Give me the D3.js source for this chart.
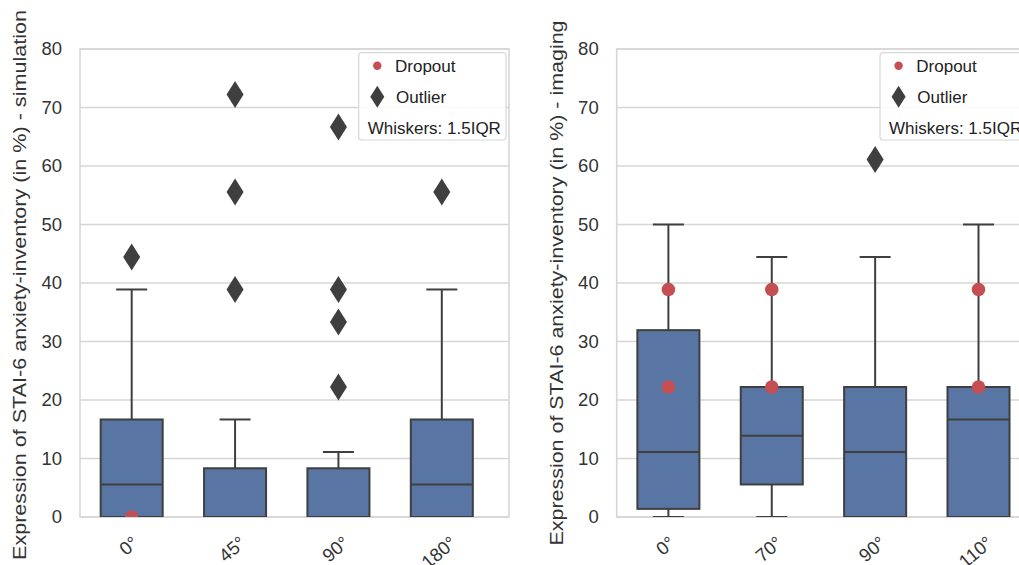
<!DOCTYPE html>
<html>
<head>
<meta charset="utf-8">
<script src="https://cdn.jsdelivr.net/npm/d3@7"></script>
<style>
    body { margin: 0; background: #fff; }
    svg { display: block; font-family: "Liberation Sans", Arial, sans-serif; }
</style>
</head>
<body>
<script>
(function () {

    //box statistics (values in %)
    var simCats = ["0°", "45°", "90°", "180°"];
    var simQ1 = [0, 0, 0, 0];
    var simMed = [5.56, 0, 0, 5.56];
    var simQ3 = [16.67, 8.33, 8.33, 16.67];
    var simLo = [0, 0, 0, 0];
    var simHi = [38.89, 16.67, 11.11, 38.89];
    var simOutliers = [[44.44], [38.89, 55.56, 72.22], [22.22, 33.33, 38.89, 66.67], [55.56]];
    var simDropouts = [[0], [], [], []];

    var imgCats = ["0°", "70°", "90°", "110°"];
    var imgQ1 = [1.39, 5.56, 0, 0];
    var imgMed = [11.11, 13.89, 11.11, 16.67];
    var imgQ3 = [31.94, 22.22, 22.22, 22.22];
    var imgLo = [0, 0, 0, 0];
    var imgHi = [50, 44.44, 44.44, 50];
    var imgOutliers = [[], [], [61.11], []];
    var imgDropouts = [[38.89, 22.22], [38.89, 22.22], [], [38.89, 22.22]];

    var yTicks = [0, 10, 20, 30, 40, 50, 60, 70, 80];

    var width = 1019,
        height = 565;

    var boxFill = "#5975a4",
        lineCol = "#3f3f3f",
        dropCol = "#c44e52",
        gridCol = "#d6d6d6",
        textCol = "#333333";

    var svg = d3.select("body")
        .append("svg")
        .attr("width", width)
        .attr("height", height);

    var plotW = 429,
        plotTop = 49,
        plotBottom = 517;

    drawPanel(80, "simulation", [26, 285, 550], 358.7, {
        cats: simCats, q1: simQ1, med: simMed, q3: simQ3, lo: simLo, hi: simHi,
        out: simOutliers, drop: simDropouts
    });
    drawPanel(616.7, "imaging", [563, 283, 525], 880, {
        cats: imgCats, q1: imgQ1, med: imgMed, q3: imgQ3, lo: imgLo, hi: imgHi,
        out: imgOutliers, drop: imgDropouts
    });

    function drawPanel(left, name, lab, legendX, d) {
        var id = "clip-" + name;

        var x = d3.scaleLinear()
            .domain([-0.5, 3.65])
            .range([left, left + plotW]);
        var y = d3.scaleLinear()
            .domain([0, 80])
            .range([plotBottom, plotTop]);

        var step = x(1) - x(0),
            boxW = step * 0.6,
            capW = boxW / 2;

        svg.append("clipPath")
            .attr("id", id)
            .append("rect")
            .attr("x", left)
            .attr("y", plotTop)
            .attr("width", plotW)
            .attr("height", plotBottom - plotTop);

        //horizontal grid
        svg.append("g")
            .selectAll("line")
            .data(yTicks)
            .enter()
            .append("line")
            .attr("x1", left)
            .attr("x2", left + plotW)
            .attr("y1", function (v) { return y(v); })
            .attr("y2", function (v) { return y(v); })
            .attr("stroke", gridCol)
            .attr("stroke-width", 1.6);

        //frame
        svg.append("rect")
            .attr("x", left)
            .attr("y", plotTop)
            .attr("width", plotW)
            .attr("height", plotBottom - plotTop)
            .attr("fill", "none")
            .attr("stroke", gridCol)
            .attr("stroke-width", 1.6);

        //y axis labels
        var yAxis = d3.axisLeft(y)
            .tickValues(yTicks)
            .tickSize(0)
            .tickPadding(18);
        var ya = svg.append("g")
            .attr("transform", "translate(" + left + ",0)")
            .call(yAxis);
        ya.select(".domain").remove();
        ya.selectAll("text")
            .attr("font-size", 18.5)
            .attr("fill", textCol);

        //y label (stretched along its length like the source figure)
        svg.append("text")
            .attr("transform", "translate(" + lab[0] + "," + lab[1] + ") rotate(-90)")
            .attr("text-anchor", "middle")
            .attr("font-size", 18.5)
            .attr("textLength", lab[2])
            .attr("lengthAdjust", "spacingAndGlyphs")
            .attr("fill", textCol)
            .text("Expression of STAI-6 anxiety-inventory (in %) - " + name);

        //x tick labels, rotated
        var xl = svg.append("g");
        d.cats.forEach(function (c, i) {
            var t = xl.append("text")
                .attr("text-anchor", "middle")
                .attr("dominant-baseline", "central")
                .attr("font-size", 18.5)
                .attr("fill", textCol)
                .text(c);
            var len = t.node().getComputedTextLength();
            var a = 40 * Math.PI / 180;
            var half = (len * Math.sin(a) + 13 * Math.cos(a)) / 2;
            t.attr("transform", "translate(" + (x(i) - 3) + "," + (535 + half) + ") rotate(-40)");
        });

        var g = svg.append("g").attr("clip-path", "url(#" + id + ")");

        d.cats.forEach(function (c, i) {
            var cx = x(i);
            //whiskers
            g.append("line")
                .attr("x1", cx).attr("x2", cx)
                .attr("y1", y(d.q3[i])).attr("y2", y(d.hi[i]))
                .attr("stroke", lineCol).attr("stroke-width", 2);
            g.append("line")
                .attr("x1", cx).attr("x2", cx)
                .attr("y1", y(d.q1[i])).attr("y2", y(d.lo[i]))
                .attr("stroke", lineCol).attr("stroke-width", 2);
            [d.hi[i], d.lo[i]].forEach(function (v) {
                g.append("line")
                    .attr("x1", cx - capW / 2).attr("x2", cx + capW / 2)
                    .attr("y1", y(v)).attr("y2", y(v))
                    .attr("stroke", lineCol).attr("stroke-width", 2);
            });
            //box
            g.append("rect")
                .attr("x", cx - boxW / 2)
                .attr("y", y(d.q3[i]))
                .attr("width", boxW)
                .attr("height", y(d.q1[i]) - y(d.q3[i]))
                .attr("fill", boxFill)
                .attr("stroke", lineCol)
                .attr("stroke-width", 2);
            //median
            g.append("line")
                .attr("x1", cx - boxW / 2).attr("x2", cx + boxW / 2)
                .attr("y1", y(d.med[i])).attr("y2", y(d.med[i]))
                .attr("stroke", lineCol).attr("stroke-width", 2);
            //outliers
            d.out[i].forEach(function (v) {
                g.append("path")
                    .attr("d", diamond(cx, y(v), 8.5, 13.5))
                    .attr("fill", lineCol);
            });
            //dropouts
            d.drop[i].forEach(function (v) {
                g.append("circle")
                    .attr("cx", cx)
                    .attr("cy", y(v))
                    .attr("r", 6.8)
                    .attr("fill", dropCol);
            });
        });

        //legend
        var lg = svg.append("g");
        lg.append("rect")
            .attr("x", legendX)
            .attr("y", 52.7)
            .attr("width", 147.3)
            .attr("height", 87.3)
            .attr("rx", 3)
            .attr("fill", "#fff")
            .attr("fill-opacity", 0.85)
            .attr("stroke", "#d8d8d8")
            .attr("stroke-width", 1.2);
        lg.append("circle")
            .attr("cx", legendX + 18.6)
            .attr("cy", 65.7)
            .attr("r", 4.2)
            .attr("fill", dropCol);
        lg.append("path")
            .attr("d", diamond(legendX + 18.6, 96.7, 7, 11))
            .attr("fill", lineCol);
        var items = [
            ["Dropout", 36.3, 66],
            ["Outlier", 37.3, 97],
            ["Whiskers: 1.5IQR", 9, 128]
        ];
        lg.selectAll(".lgText")
            .data(items)
            .enter()
            .append("text")
            .attr("class", "lgText")
            .attr("x", function (t) { return legendX + t[1]; })
            .attr("y", function (t) { return t[2]; })
            .attr("dominant-baseline", "central")
            .attr("font-size", 17)
            .attr("fill", "#222")
            .text(function (t) { return t[0]; });
    }

    function diamond(cx, cy, hw, hh) {
        return "M" + cx + "," + (cy - hh) +
            "L" + (cx + hw) + "," + cy +
            "L" + cx + "," + (cy + hh) +
            "L" + (cx - hw) + "," + cy + "Z";
    }

})();
</script>
</body>
</html>
